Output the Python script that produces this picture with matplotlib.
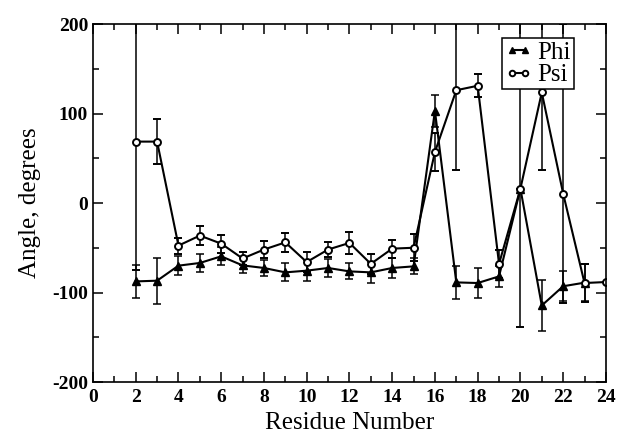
import numpy as np
import matplotlib.pyplot as plt
from matplotlib.ticker import MultipleLocator
from matplotlib.lines import Line2D

# backbone dihedral angles per residue (mean and spread)
phi_res = [2, 3, 4, 5, 6, 7, 8, 9, 10, 11, 12, 13, 14, 15, 16, 17, 18, 19, 20, 21, 22, 23]
phi_val = [-87.6, -86.8, -70, -67, -59.6, -69.7, -72.6, -77.5, -75.6, -72.6, -76.4,
           -77.5, -72.6, -70.8, 103, -88.7, -89.4, -82, 16, -114.5, -93, -89]
phi_err = [18, 25.6, 11, 10, 10, 8, 9, 10, 12, 10, 9, 12, 11, 9, 18, 18, 17, 12, 0, 28, 17, 21]

psi_res = [2, 3, 4, 5, 6, 7, 8, 9, 10, 11, 12, 13, 14, 15, 16, 17, 18, 19, 20, 21, 22, 23, 24]
psi_val = [68.6, 68.6, -47.6, -36.4, -45.4, -62, -52, -44, -66, -52, -44.6, -68, -51,
           -50, 57, 126, 131, -68, 16, 123.5, 10.5, -89.4, -88.3]
psi_lo = [143.6, 25, 9, 11, 10, 7, 10, 11, 11, 8, 12, 11, 10, 15, 21, 89, 13, 16, 155, 87, 122, 21, 0]
psi_hi = [145, 25, 9, 11, 10, 7, 10, 11, 11, 8, 12, 11, 10, 15, 21, 89, 13, 16, 190, 87, 190, 21, 0]

plt.rcParams['font.family'] = ['Liberation Serif', 'DejaVu Serif']
plt.rcParams['axes.unicode_minus'] = False

fig = plt.figure(figsize=(6.17, 4.34), dpi=100)
ax = fig.add_axes([0.1507, 0.1198, 0.8313, 0.8249])

phi_style = dict(color='black', lw=1.5, marker='^', ms=6, mfc='black', mec='black')
psi_style = dict(color='black', lw=1.5, marker='o', ms=5, mfc='white', mec='black', mew=1.4)

ax.errorbar(phi_res, phi_val, yerr=phi_err, ecolor='black', elinewidth=1.1,
            capsize=3.2, capthick=1.1, **phi_style)
ax.errorbar(psi_res, psi_val, yerr=[psi_lo, psi_hi], ecolor='black', elinewidth=1.1,
            capsize=3.2, capthick=1.1, **psi_style)

ax.set_xlim(0, 24)
ax.set_ylim(-200, 200)
ax.xaxis.set_major_locator(MultipleLocator(2))
ax.xaxis.set_minor_locator(MultipleLocator(1))
ax.yaxis.set_major_locator(MultipleLocator(100))
ax.yaxis.set_minor_locator(MultipleLocator(50))
ax.tick_params(which='both', direction='in', top=True, right=True, width=1.1)
ax.tick_params(which='major', length=7, labelsize=14)
ax.tick_params(which='minor', length=4)
ax.tick_params(axis='x', pad=5)
for lab in ax.get_xticklabels() + ax.get_yticklabels():
    lab.set_fontweight('bold')
for sp in ax.spines.values():
    sp.set_linewidth(1.2)

ax.set_xlabel('Residue Number', fontsize=18, labelpad=4)
ax.set_ylabel('Angle, degrees', fontsize=18, labelpad=8)

# legend entries without the error bars
handles = [Line2D([], [], ms=4.5, **{k: v for k, v in phi_style.items() if k != 'ms'}),
           Line2D([], [], ms=4, **{k: v for k, v in psi_style.items() if k != 'ms'})]
leg = ax.legend(handles, ['Phi', 'Psi'], loc='upper right', bbox_to_anchor=(0.937, 0.96),
                fontsize=18, numpoints=2, handlelength=1.1, handletextpad=0.2,
                borderpad=0.12, labelspacing=0.0, fancybox=False, framealpha=1,
                borderaxespad=0)
leg.get_frame().set_edgecolor('black')
leg.get_frame().set_linewidth(1.1)

fig.savefig('out.png', dpi=100)
